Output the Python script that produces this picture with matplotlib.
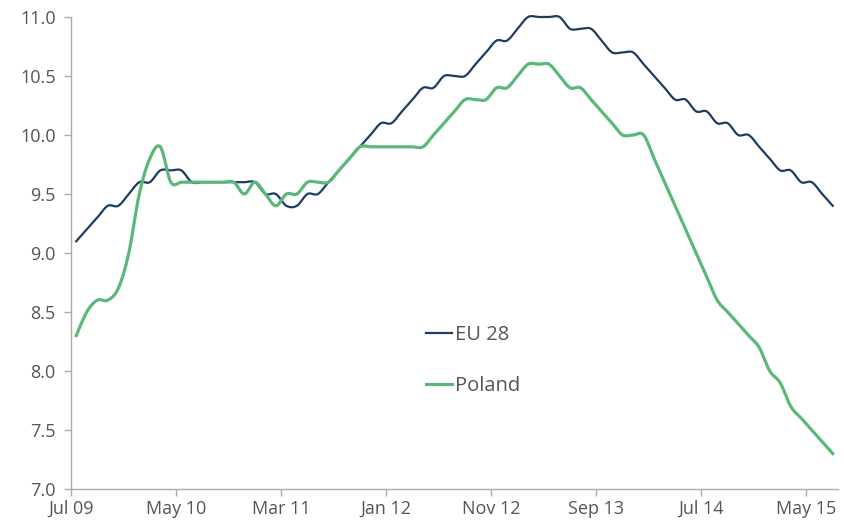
import numpy as np
import matplotlib
matplotlib.use('Agg')
import matplotlib.pyplot as plt

# monthly values, Jul 09 .. Jul 15
eu28 = [9.1, 9.2, 9.3, 9.4, 9.4, 9.5, 9.6, 9.6, 9.7, 9.7,
        9.7, 9.6, 9.6, 9.6, 9.6, 9.6, 9.6, 9.6, 9.5, 9.5,
        9.4, 9.4, 9.5, 9.5, 9.6, 9.7, 9.8, 9.9, 10.0, 10.1,
        10.1, 10.2, 10.3, 10.4, 10.4, 10.5, 10.5, 10.5, 10.6, 10.7,
        10.8, 10.8, 10.9, 11.0, 11.0, 11.0, 11.0, 10.9, 10.9, 10.9,
        10.8, 10.7, 10.7, 10.7, 10.6, 10.5, 10.4, 10.3, 10.3, 10.2,
        10.2, 10.1, 10.1, 10.0, 10.0, 9.9, 9.8, 9.7, 9.7, 9.6,
        9.6, 9.5, 9.4]
poland = [8.3, 8.5, 8.6, 8.6, 8.7, 9.0, 9.5, 9.8, 9.9, 9.6,
          9.6, 9.6, 9.6, 9.6, 9.6, 9.6, 9.5, 9.6, 9.5, 9.4,
          9.5, 9.5, 9.6, 9.6, 9.6, 9.7, 9.8, 9.9, 9.9, 9.9,
          9.9, 9.9, 9.9, 9.9, 10.0, 10.1, 10.2, 10.3, 10.3, 10.3,
          10.4, 10.4, 10.5, 10.6, 10.6, 10.6, 10.5, 10.4, 10.4, 10.3,
          10.2, 10.1, 10.0, 10.0, 10.0, 9.8, 9.6, 9.4, 9.2, 9.0,
          8.8, 8.6, 8.5, 8.4, 8.3, 8.2, 8.0, 7.9, 7.7, 7.6,
          7.5, 7.4, 7.3]
tick_labels = ['Jul 09', 'May 10', 'Mar 11', 'Jan 12', 'Nov 12', 'Sep 13', 'Jul 14', 'May 15']

EU_COLOR = '#1b3d5f'
PL_COLOR = '#5cb87a'
TEXT_COLOR = '#555555'
AXIS_COLOR = '#aaaaaa'


def smooth(x, y, n=12):
    # catmull-rom curve through the points, like a spreadsheet "smoothed line"
    x = np.asarray(x, dtype=float)
    y = np.asarray(y, dtype=float)
    px = np.concatenate([[x[0]], x, [x[-1]]])
    py = np.concatenate([[y[0]], y, [y[-1]]])
    t = np.linspace(0, 1, n, endpoint=False)
    xs, ys = [], []
    for i in range(1, len(px) - 2):
        for p, out in ((px, xs), (py, ys)):
            p0, p1, p2, p3 = p[i - 1], p[i], p[i + 1], p[i + 2]
            out.extend(0.5 * ((2 * p1) + (-p0 + p2) * t
                              + (2 * p0 - 5 * p1 + 4 * p2 - p3) * t ** 2
                              + (-p0 + 3 * p1 - 3 * p2 + p3) * t ** 3))
    xs.append(x[-1])
    ys.append(y[-1])
    return np.array(xs), np.array(ys)


plt.rcParams['font.family'] = ['Open Sans', 'DejaVu Sans']

fig = plt.figure(figsize=(8.44, 5.22), dpi=100)
ax = fig.add_axes([71 / 844, 33 / 522, 767 / 844, 472 / 522])

x = np.arange(len(eu28)) + 0.5
ex, ey = smooth(x, eu28)
px_, py_ = smooth(x, poland)
ax.plot(ex, ey, color=EU_COLOR, linewidth=1.6, label='EU 28', clip_on=False)
ax.plot(px_, py_, color=PL_COLOR, linewidth=2.3, label='Poland', clip_on=False)

ax.set_xlim(0, len(eu28))
ax.set_ylim(7.0, 11.0)
ax.set_xticks(np.arange(0, len(eu28), 10))
ax.set_xticklabels(tick_labels)
ax.set_yticks(np.arange(7.0, 11.01, 0.5))
ax.set_yticklabels(['{:.1f}'.format(v) for v in np.arange(7.0, 11.01, 0.5)])

for side in ['top', 'right']:
    ax.spines[side].set_visible(False)
for side in ['left', 'bottom']:
    ax.spines[side].set_color(AXIS_COLOR)
    ax.spines[side].set_linewidth(1.0)
ax.tick_params(axis='both', colors=AXIS_COLOR, labelcolor=TEXT_COLOR,
               labelsize=13, length=5, width=1.0)
ax.tick_params(axis='y', pad=6)
ax.tick_params(axis='x', pad=3)

leg = ax.legend(loc='center left', bbox_to_anchor=(0.463, 0.272), frameon=False,
                fontsize=14.5, handlelength=1.3, handletextpad=0.15,
                labelspacing=1.55, borderpad=0, borderaxespad=0)
for t in leg.get_texts():
    t.set_color(TEXT_COLOR)

fig.savefig('out.png', dpi=100)
